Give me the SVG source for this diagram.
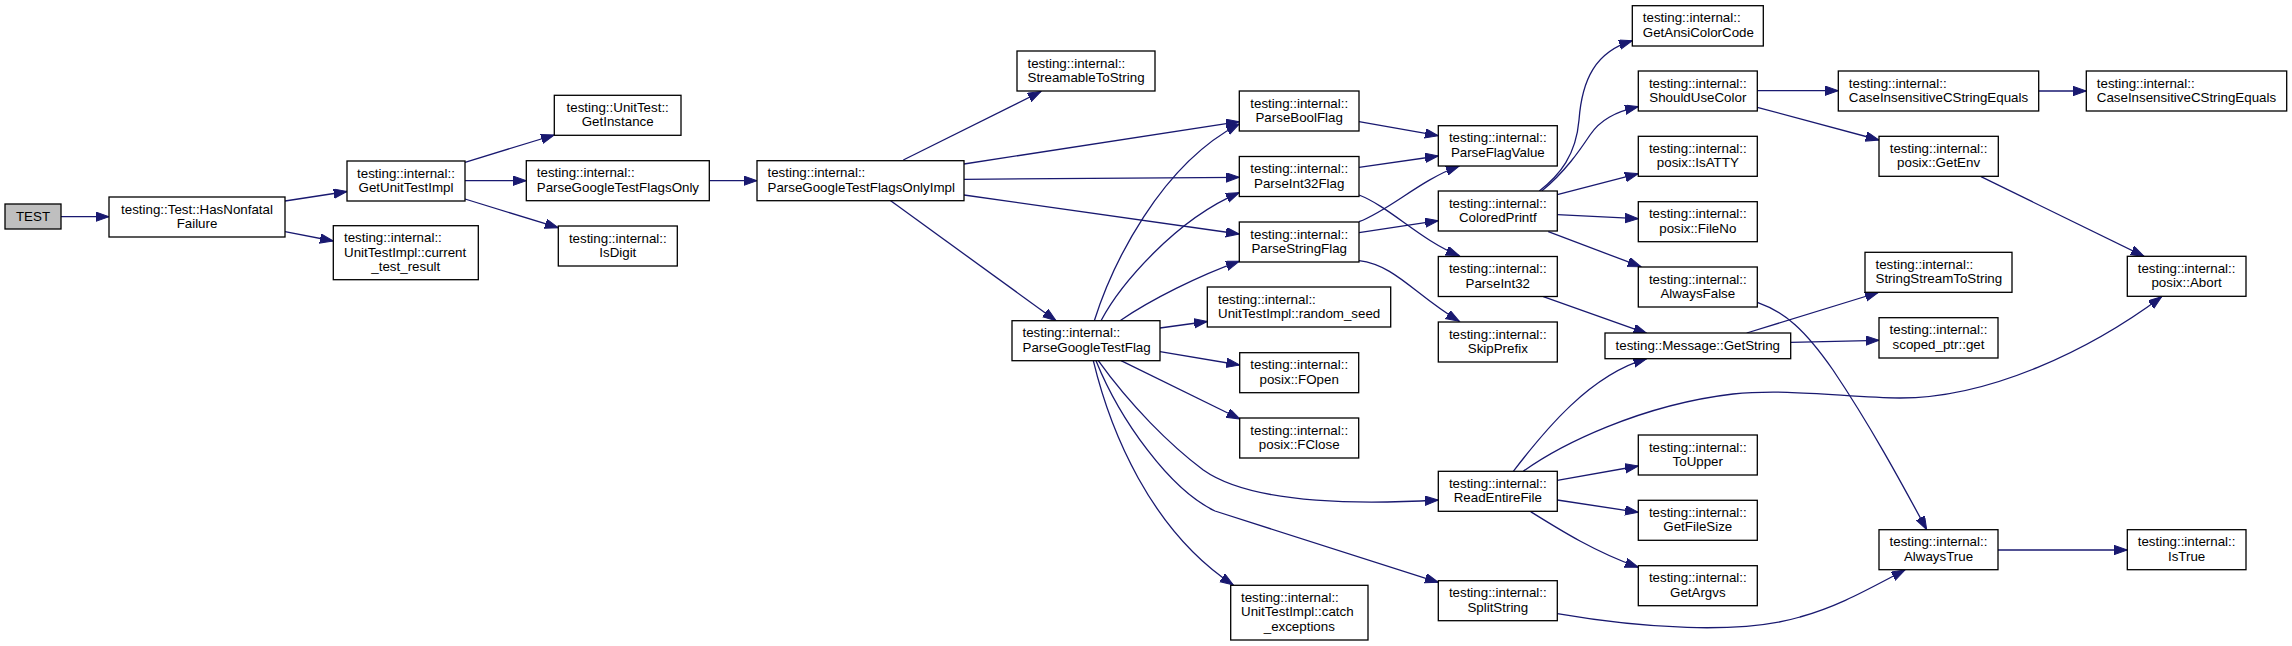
<svg xmlns="http://www.w3.org/2000/svg" width="2292" height="646" viewBox="0 0 2292 646">
<style>
.n rect{fill:#ffffff;stroke:#000000;stroke-width:1.3}
.n.root rect{fill:#bfbfbf}
.n text{font-family:"Liberation Sans",Arial,Helvetica,sans-serif;font-size:13.33px;fill:#000000}
.c{text-anchor:middle}
.l{text-anchor:start}
#edges path{fill:none;stroke:#191970;stroke-width:1.3;marker-end:url(#arr)}
</style>
<defs>
<marker id="arr" markerUnits="userSpaceOnUse" markerWidth="16" markerHeight="12" refX="13.3" refY="4.7" orient="auto">
<path d="M0,0 L13.3,4.7 L0,9.4 Z" fill="#191970" stroke="#191970" stroke-width="1"/>
</marker>
</defs>
<rect width="2292" height="646" fill="#ffffff"/>
<g id="edges">
<path d="M61,216.7 L109,216.7"/>
<path d="M285,201 L347,191.5"/>
<path d="M285,231.7 L333.3,241"/>
<path d="M465,162.3 L554.3,135"/>
<path d="M465,180.7 L526.3,180.7"/>
<path d="M465,199 L558.3,227.7"/>
<path d="M709.3,180.7 L757,180.7"/>
<path d="M903.3,160 L1041,91.5"/>
<path d="M964,164 L1239.3,121.7"/>
<path d="M964,179.3 L1239.3,177.3"/>
<path d="M964,195 L1239.3,234"/>
<path d="M890,200.3 L1056,320.7"/>
<path d="M1094.3,320.7 C1112,265 1160,165 1239.3,124"/>
<path d="M1101,320.7 C1120,285 1175,220 1239.3,192.7"/>
<path d="M1120,320.7 C1150,300 1200,275 1239.3,261.3"/>
<path d="M1160,328 L1207.3,321.5"/>
<path d="M1160,351.7 L1239.7,365"/>
<path d="M1121,360.7 L1240,419"/>
<path d="M1098.3,360.7 C1130,405 1170,445 1203.3,470 C1250,503 1350,505 1438.3,500"/>
<path d="M1096,360.7 C1120,420 1170,490 1215,511 L1438.3,582.3"/>
<path d="M1093.3,360.7 C1110,430 1150,530 1233.3,585"/>
<path d="M1359,121.7 L1438.3,135.7"/>
<path d="M1359,167.3 L1438.3,156"/>
<path d="M1359,195 C1390,207 1420,240 1459.3,255.7"/>
<path d="M1359,221.7 C1390,210 1420,180 1459.3,166"/>
<path d="M1359,232.7 L1438.3,220.7"/>
<path d="M1359,260.7 C1395,265 1415,295 1459.3,321.3"/>
<path d="M1539.3,191 C1560,175 1576,155 1579,120 C1582,80 1595,52 1632.3,40.7"/>
<path d="M1541.7,191 C1565,172 1580,150 1590,135 C1600,120 1615,112 1638.3,106.7"/>
<path d="M1557.3,194.7 L1638.3,173.7"/>
<path d="M1557.3,214.7 L1638.3,218.7"/>
<path d="M1548.3,231.7 L1641,266.7"/>
<path d="M1543.3,296.7 L1646.7,333.3"/>
<path d="M1757.3,90.7 L1838.3,90.7"/>
<path d="M1757.3,107.3 L1879,140"/>
<path d="M2038.7,91 L2086.3,91"/>
<path d="M1981,176.7 L2144,256.3"/>
<path d="M1746.7,333 L1878.3,292.5"/>
<path d="M1790.7,342.3 L1879,340.3"/>
<path d="M1757.3,302.3 C1785,312 1805,330 1833,370 C1870,425 1900,480 1926.7,529.7"/>
<path d="M1513.3,471.3 C1545,430 1590,375 1646.7,358.7"/>
<path d="M1523.3,471.3 C1560,445 1640,405 1733,394 C1790,388 1850,398 1900,398 C1990,398 2090,350 2161.7,296.7"/>
<path d="M1557.3,480.3 L1638.3,466"/>
<path d="M1557.3,500 L1638.3,512.3"/>
<path d="M1530,511.3 C1560,530 1595,552 1638.3,567.3"/>
<path d="M1557.3,613.7 C1640,628 1740,635 1800,617 C1840,606 1870,588 1905,570"/>
<path d="M1998,550 L2127.3,550"/>
</g>
<g id="n_test" class="n root"><rect x="5" y="204" width="56" height="25"/><text class="c" x="33" y="221">TEST</text></g>
<g id="n_hasnonfatal" class="n"><rect x="109" y="197" width="176" height="40"/><text class="c"><tspan x="197" y="213.5">testing::Test::HasNonfatal</tspan><tspan x="197" y="228">Failure</tspan></text></g>
<g id="n_getunittestimpl" class="n"><rect x="347" y="161" width="118" height="40"/><text class="c"><tspan x="406" y="177.5">testing::internal::</tspan><tspan x="406" y="192">GetUnitTestImpl</tspan></text></g>
<g id="n_current_test_result" class="n"><rect x="333.3" y="225.7" width="145" height="54"/><text class="l"><tspan x="344" y="242">testing::internal::</tspan><tspan x="344" y="256.5">UnitTestImpl::current</tspan></text><text class="c" x="405.8" y="271">_test_result</text></g>
<g id="n_getinstance" class="n"><rect x="554.3" y="95.3" width="126.7" height="40"/><text class="c"><tspan x="617.7" y="111.8">testing::UnitTest::</tspan><tspan x="617.7" y="126.3">GetInstance</tspan></text></g>
<g id="n_pgtfo" class="n"><rect x="526.3" y="160.7" width="183" height="40"/><text class="l"><tspan x="536.8" y="177.2">testing::internal::</tspan><tspan x="536.8" y="191.7">ParseGoogleTestFlagsOnly</tspan></text></g>
<g id="n_isdigit" class="n"><rect x="558.3" y="226" width="119" height="40"/><text class="c"><tspan x="617.8" y="242.5">testing::internal::</tspan><tspan x="617.8" y="257">IsDigit</tspan></text></g>
<g id="n_pgtfoimpl" class="n"><rect x="757" y="160.7" width="207" height="40"/><text class="l"><tspan x="767.5" y="177.2">testing::internal::</tspan><tspan x="767.5" y="191.7">ParseGoogleTestFlagsOnlyImpl</tspan></text></g>
<g id="n_streamabletostring" class="n"><rect x="1017" y="51" width="138" height="40"/><text class="l"><tspan x="1027.5" y="67.5">testing::internal::</tspan><tspan x="1027.5" y="82">StreamableToString</tspan></text></g>
<g id="n_parseboolflag" class="n"><rect x="1239.3" y="91" width="119.7" height="40"/><text class="c"><tspan x="1299.2" y="107.5">testing::internal::</tspan><tspan x="1299.2" y="122">ParseBoolFlag</tspan></text></g>
<g id="n_parseint32flag" class="n"><rect x="1239.3" y="156.5" width="119.7" height="40"/><text class="c"><tspan x="1299.2" y="173">testing::internal::</tspan><tspan x="1299.2" y="187.5">ParseInt32Flag</tspan></text></g>
<g id="n_parsestringflag" class="n"><rect x="1239.3" y="222" width="119.7" height="40"/><text class="c"><tspan x="1299.2" y="238.5">testing::internal::</tspan><tspan x="1299.2" y="253">ParseStringFlag</tspan></text></g>
<g id="n_random_seed" class="n"><rect x="1207.3" y="287" width="183.4" height="40"/><text class="l"><tspan x="1218" y="303.5">testing::internal::</tspan><tspan x="1218" y="318">UnitTestImpl::random_seed</tspan></text></g>
<g id="n_parsegoogletestflag" class="n"><rect x="1012" y="320.7" width="148" height="40"/><text class="l"><tspan x="1022.5" y="337.2">testing::internal::</tspan><tspan x="1022.5" y="351.7">ParseGoogleTestFlag</tspan></text></g>
<g id="n_fopen" class="n"><rect x="1239.7" y="352.7" width="119" height="40"/><text class="c"><tspan x="1299.2" y="369.2">testing::internal::</tspan><tspan x="1299.2" y="383.7">posix::FOpen</tspan></text></g>
<g id="n_fclose" class="n"><rect x="1239.7" y="418" width="119" height="40"/><text class="c"><tspan x="1299.2" y="434.5">testing::internal::</tspan><tspan x="1299.2" y="449">posix::FClose</tspan></text></g>
<g id="n_catch_exceptions" class="n"><rect x="1230.7" y="585.3" width="137.3" height="54.7"/><text class="l"><tspan x="1241" y="601.8">testing::internal::</tspan><tspan x="1241" y="616.3">UnitTestImpl::catch</tspan></text><text class="c" x="1299.3" y="630.8">_exceptions</text></g>
<g id="n_parseflagvalue" class="n"><rect x="1438.3" y="125.7" width="119" height="40.3"/><text class="c"><tspan x="1497.8" y="142.2">testing::internal::</tspan><tspan x="1497.8" y="156.7">ParseFlagValue</tspan></text></g>
<g id="n_coloredprintf" class="n"><rect x="1438.3" y="191" width="119" height="40"/><text class="c"><tspan x="1497.8" y="207.5">testing::internal::</tspan><tspan x="1497.8" y="222">ColoredPrintf</tspan></text></g>
<g id="n_parseint32" class="n"><rect x="1438.3" y="256.5" width="119" height="40"/><text class="c"><tspan x="1497.8" y="273">testing::internal::</tspan><tspan x="1497.8" y="287.5">ParseInt32</tspan></text></g>
<g id="n_skipprefix" class="n"><rect x="1438.3" y="322" width="119" height="40"/><text class="c"><tspan x="1497.8" y="338.5">testing::internal::</tspan><tspan x="1497.8" y="353">SkipPrefix</tspan></text></g>
<g id="n_readentirefile" class="n"><rect x="1438.3" y="471.3" width="119" height="40"/><text class="c"><tspan x="1497.8" y="487.8">testing::internal::</tspan><tspan x="1497.8" y="502.3">ReadEntireFile</tspan></text></g>
<g id="n_splitstring" class="n"><rect x="1438.3" y="580.7" width="119" height="40"/><text class="c"><tspan x="1497.8" y="597.2">testing::internal::</tspan><tspan x="1497.8" y="611.7">SplitString</tspan></text></g>
<g id="n_getansicolorcode" class="n"><rect x="1632.3" y="5.7" width="131" height="40.3"/><text class="l"><tspan x="1642.8" y="22.2">testing::internal::</tspan><tspan x="1642.8" y="36.7">GetAnsiColorCode</tspan></text></g>
<g id="n_shouldusecolor" class="n"><rect x="1638.3" y="71" width="119" height="40"/><text class="c"><tspan x="1697.8" y="87.5">testing::internal::</tspan><tspan x="1697.8" y="102">ShouldUseColor</tspan></text></g>
<g id="n_isatty" class="n"><rect x="1638.3" y="136.3" width="119" height="40"/><text class="c"><tspan x="1697.8" y="152.8">testing::internal::</tspan><tspan x="1697.8" y="167.3">posix::IsATTY</tspan></text></g>
<g id="n_fileno" class="n"><rect x="1638.3" y="201.7" width="119" height="40"/><text class="c"><tspan x="1697.8" y="218.2">testing::internal::</tspan><tspan x="1697.8" y="232.7">posix::FileNo</tspan></text></g>
<g id="n_alwaysfalse" class="n"><rect x="1638.3" y="267" width="119" height="40"/><text class="c"><tspan x="1697.8" y="283.5">testing::internal::</tspan><tspan x="1697.8" y="298">AlwaysFalse</tspan></text></g>
<g id="n_getstring" class="n"><rect x="1605" y="333" width="185.7" height="25.7"/><text class="c" x="1697.8" y="350">testing::Message::GetString</text></g>
<g id="n_toupper" class="n"><rect x="1638.3" y="435" width="119" height="40"/><text class="c"><tspan x="1697.8" y="451.5">testing::internal::</tspan><tspan x="1697.8" y="466">ToUpper</tspan></text></g>
<g id="n_getfilesize" class="n"><rect x="1638.3" y="500.3" width="119" height="40"/><text class="c"><tspan x="1697.8" y="516.8">testing::internal::</tspan><tspan x="1697.8" y="531.3">GetFileSize</tspan></text></g>
<g id="n_getargvs" class="n"><rect x="1638.3" y="565.7" width="119" height="40"/><text class="c"><tspan x="1697.8" y="582.2">testing::internal::</tspan><tspan x="1697.8" y="596.7">GetArgvs</tspan></text></g>
<g id="n_cicse1" class="n"><rect x="1838.3" y="71" width="200.4" height="40"/><text class="l"><tspan x="1848.8" y="87.5">testing::internal::</tspan><tspan x="1848.8" y="102">CaseInsensitiveCStringEquals</tspan></text></g>
<g id="n_cicse2" class="n"><rect x="2086.3" y="71" width="200.4" height="40"/><text class="l"><tspan x="2096.8" y="87.5">testing::internal::</tspan><tspan x="2096.8" y="102">CaseInsensitiveCStringEquals</tspan></text></g>
<g id="n_getenv" class="n"><rect x="1879" y="136.3" width="119.3" height="40"/><text class="c"><tspan x="1938.6" y="152.8">testing::internal::</tspan><tspan x="1938.6" y="167.3">posix::GetEnv</tspan></text></g>
<g id="n_stringstreamtostring" class="n"><rect x="1865" y="252.3" width="147" height="40"/><text class="l"><tspan x="1875.5" y="268.8">testing::internal::</tspan><tspan x="1875.5" y="283.3">StringStreamToString</tspan></text></g>
<g id="n_scoped_ptr_get" class="n"><rect x="1879" y="317.7" width="119" height="40.3"/><text class="c"><tspan x="1938.5" y="334.2">testing::internal::</tspan><tspan x="1938.5" y="348.7">scoped_ptr::get</tspan></text></g>
<g id="n_alwaystrue" class="n"><rect x="1879" y="529.7" width="119" height="40"/><text class="c"><tspan x="1938.5" y="546.2">testing::internal::</tspan><tspan x="1938.5" y="560.7">AlwaysTrue</tspan></text></g>
<g id="n_abort" class="n"><rect x="2127.3" y="256.3" width="118.7" height="40"/><text class="c"><tspan x="2186.6" y="272.8">testing::internal::</tspan><tspan x="2186.6" y="287.3">posix::Abort</tspan></text></g>
<g id="n_istrue" class="n"><rect x="2127.3" y="529.7" width="118.7" height="40"/><text class="c"><tspan x="2186.6" y="546.2">testing::internal::</tspan><tspan x="2186.6" y="560.7">IsTrue</tspan></text></g>
</svg>
